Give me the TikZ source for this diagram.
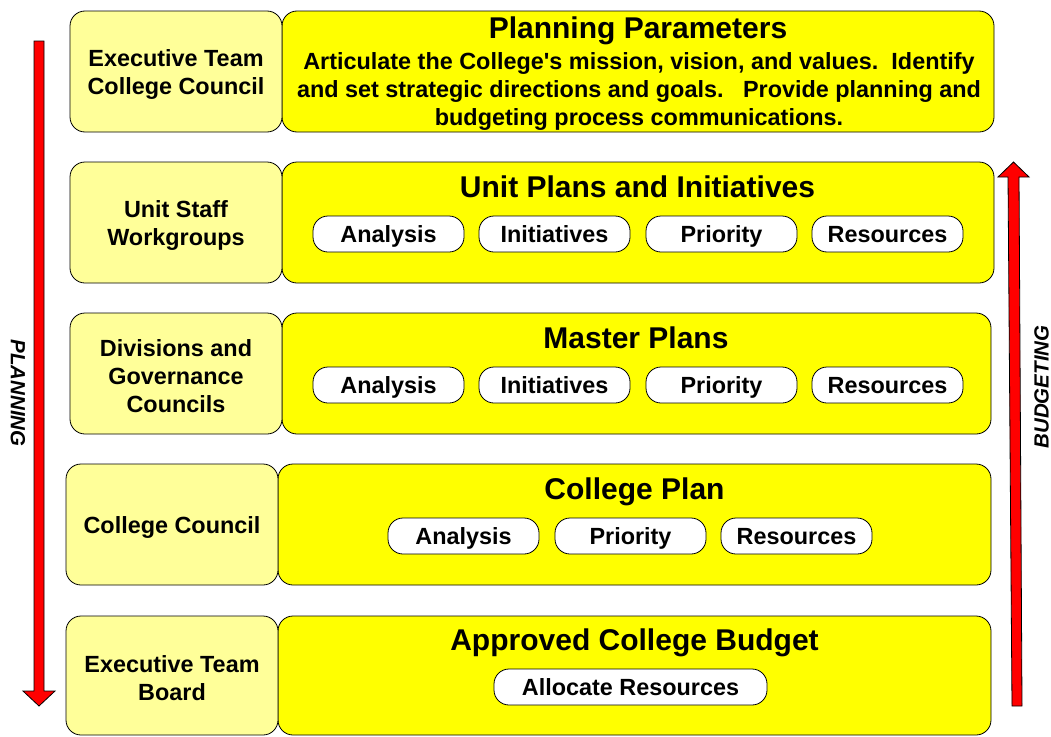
\documentclass[tikz,border=0pt]{standalone}
\usepackage{fontspec}
\setmainfont{Liberation Sans}
\definecolor{paleyellow}{RGB}{255,255,153}
\definecolor{stageyellow}{RGB}{255,255,0}
\definecolor{flowred}{RGB}{255,0,0}
\newcommand\rolefont{\fontsize{23.4pt}{28pt}\selectfont\bfseries}
\newcommand\headfont{\fontsize{30pt}{34pt}\selectfont\bfseries}
\newcommand\sidefont{\fontsize{20.5pt}{24pt}\selectfont\bfseries\itshape}
\tikzset{
  edge/.style={draw=black, line width=0.8pt},
  rolebox/.style={edge, fill=paleyellow, rounded corners=15pt,
    minimum width=212pt, minimum height=121pt, inner sep=0pt},
  rolelabel/.style={align=center, inner sep=0pt, font=\rolefont},
  stagebox/.style={edge, fill=stageyellow, rounded corners=15pt,
    minimum height=121pt, inner sep=0pt},
  stagetitle/.style={anchor=base, inner sep=0pt, font=\headfont},
  pill/.style={edge, fill=white, rounded corners=15pt,
    minimum width=151pt, minimum height=36pt, inner sep=0pt,
    text height=16.8pt, text depth=0pt, font=\rolefont},
  flow/.style={edge, fill=flowred, line join=miter},
  flowlabel/.style={inner sep=0pt, font=\sidefont}
}
\begin{document}
\begin{tikzpicture}[x=1pt, y=-1pt]
\useasboundingbox (0,0) rectangle (1051,736);

% stage boxes (right column)
\node[stagebox, minimum width=712pt] (s1) at (638,71.5) {};
\node[stagebox, minimum width=712pt] (s2) at (638,222.5) {};
\node[stagebox, minimum width=709pt] (s3) at (636.5,373.5) {};
\node[stagebox, minimum width=713pt] (s4) at (634.5,524.5) {};
\node[stagebox, minimum width=713pt, minimum height=119pt] (s5) at (634.5,675.5) {};

% responsible groups (left column)
\node[rolebox] (r1) at (176,71.5) {};
\node[rolebox] (r2) at (176,222.5) {};
\node[rolebox] (r3) at (176,373.5) {};
\node[rolebox] (r4) at (172,524.5) {};
\node[rolebox, minimum height=119pt] (r5) at (172,675.5) {};
\node[rolelabel] (r1t) at (176,74) {Executive Team\\College Council};
\node[rolelabel] (r2t) at (176,225) {Unit Staff\\Workgroups};
\node[rolelabel] (r3t) at (176,376) {Divisions and\\Governance\\Councils};
\node[rolelabel] (r4t) at (172,527) {College Council};
\node[rolelabel] (r5t) at (172,678) {Executive Team\\Board};

% stage titles
\node[stagetitle] (t1) at (638,38.7) {Planning Parameters};
\node[stagetitle] (t2) at (637.5,197) {Unit Plans and Initiatives};
\node[stagetitle] (t3) at (636,348) {Master Plans};
\node[stagetitle] (t4) at (634.5,499) {College Plan};
\node[stagetitle] (t5) at (634.5,650) {Approved College Budget};

% planning parameters description
\node[inner sep=0pt, align=center, font=\rolefont] (d1) at (639,91.5)
  {Articulate the College\textquotesingle s mission, vision, and values.\ \ Identify\\
   and set strategic directions and goals.\ \ \ Provide planning and\\
   budgeting process communications.};

% unit plans
\node[pill] (u1) at (388.5,234) {Analysis};
\node[pill] (u2) at (554.5,234) {Initiatives};
\node[pill] (u3) at (721.5,234) {Priority};
\node[pill] (u4) at (887.5,234) {Resources};

% master plans
\node[pill] (m1) at (388.5,385) {Analysis};
\node[pill] (m2) at (554.5,385) {Initiatives};
\node[pill] (m3) at (721.5,385) {Priority};
\node[pill] (m4) at (887.5,385) {Resources};

% college plan
\node[pill] (c1) at (463.5,536) {Analysis};
\node[pill] (c2) at (630.5,536) {Priority};
\node[pill] (c3) at (796.5,536) {Resources};

% approved budget
\node[pill, minimum width=273pt] (b1) at (630.5,687) {Allocate Resources};

% planning arrow (downward)
\draw[flow] (34,41) -- (44,41) -- (44,691) -- (55,691) -- (39,706)
  -- (23,691) -- (34,691) -- cycle;
\node[flowlabel, rotate=-90] (planning) at (18,393) {PLANNING};

% budgeting arrow (upward)
\draw[flow] (1012,706) -- (1022,706) -- (1019,177) -- (1029,177)
  -- (1013.5,162) -- (998,177) -- (1008,177) -- cycle;
\node[flowlabel, rotate=90] (budgeting) at (1041.5,387) {BUDGETING};
\end{tikzpicture}
\end{document}
